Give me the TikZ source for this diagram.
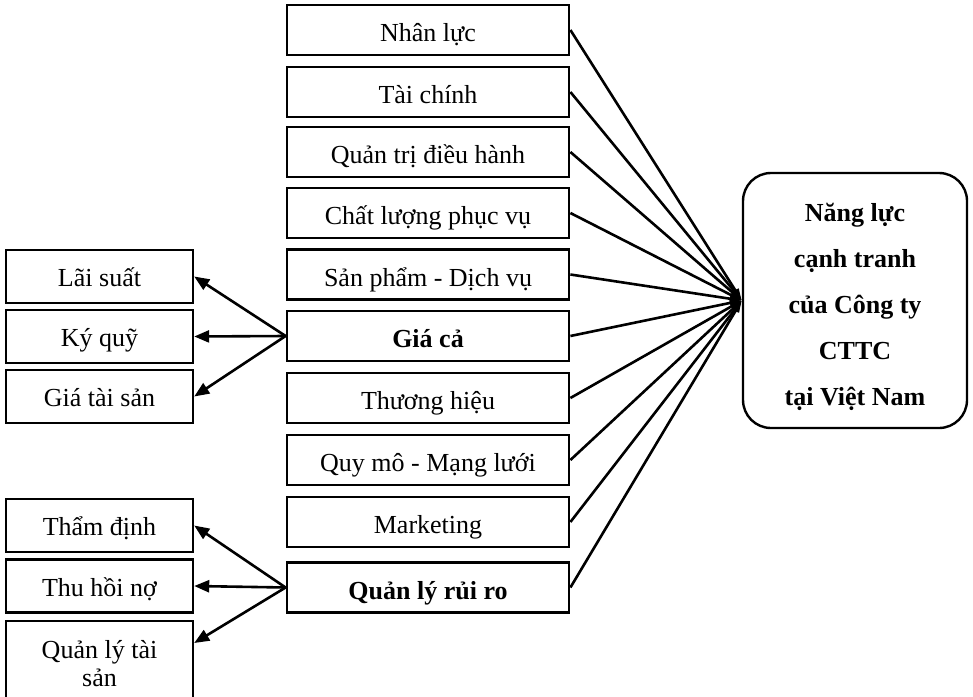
\documentclass[tikz,border=0pt]{standalone}
\usepackage{fontspec}
\setmainfont{Liberation Serif}
\usetikzlibrary{arrows.meta}
\tikzset{
  mid/.style={draw, line width=2.8pt, minimum width=282pt, minimum height=50pt, inner sep=0pt, text height=25pt, text depth=2pt, font=\fontsize{26}{30}\selectfont},
  side/.style={draw, line width=2.4pt, minimum width=187pt, minimum height=53pt, inner sep=0pt, text height=22pt, text depth=2pt, font=\fontsize{26}{30}\selectfont},
  goal/.style={draw, line width=2.4pt, rounded corners=28pt, minimum width=224pt, minimum height=255pt, inner sep=0pt},
  goaltext/.style={align=center, inner sep=0pt, font=\bfseries\fontsize{26}{46}\selectfont},
  toleft/.style={line width=2.6pt, -{Triangle[length=15pt,width=12pt]}},
  toright/.style={line width=2.6pt, -{Triangle[length=12pt,width=7pt]}}
}
\begin{document}
\begin{tikzpicture}[x=1pt,y=-1pt]
\useasboundingbox (0,0) rectangle (973,696);
\clip (0,0) rectangle (973,696);
\node[mid] (m1) at (428,30) {Nhân lực};
\node[mid] (m2) at (428,92) {Tài chính};
\node[mid] (m3) at (428,152) {Quản trị điều hành};
\node[mid] (m4) at (428,213) {Chất lượng phục vụ};
\node[mid] (m5) at (428,274.5) {Sản phẩm - Dịch vụ};
\node[mid] (m6) at (428,336) {\bfseries Giá cả};
\node[mid] (m7) at (428,398) {Thương hiệu};
\node[mid] (m8) at (428,460) {Quy mô - Mạng lưới};
\node[mid] (m9) at (428,522) {Marketing};
\node[mid] (m10) at (428,587.5) {\bfseries Quản lý rủi ro};

\node[side] (l1) at (99.5,276.5) {Lãi suất};
\node[side] (l2) at (99.5,336.5) {Ký quỹ};
\node[side] (l3) at (99.5,396.5) {Giá tài sản};
\node[side] (l4) at (99.5,525.5) {Thẩm định};
\node[side] (l5) at (99.5,586) {Thu hồi nợ};
\node[side, minimum height=110pt, anchor=north, text height=0pt, text depth=0pt] (l6) at (99.5,620) {};
\node[font=\fontsize{26}{28}\selectfont, align=center] (l6t) at (99.5,664) {Quản lý tài\\sản};

\node[goal] (R) at (855,300.5) {};
\node[goaltext] (Rt) at (855,307) {Năng lực\\cạnh tranh\\của Công ty\\CTTC\\tại Việt Nam};

\foreach \i in {1,...,10} {
  \draw[toright] (m\i.east) -- (R.west);
}
\draw[toleft] (m6.west) -- (l1.east);
\draw[toleft] (m6.west) -- (l2.east);
\draw[toleft] (m6.west) -- (l3.east);
\draw[toleft] (m10.west) -- (l4.east);
\draw[toleft] (m10.west) -- (l5.east);
\draw[toleft] (m10.west) -- ([yshift=-23pt]l6.north east);
\end{tikzpicture}
\end{document}
